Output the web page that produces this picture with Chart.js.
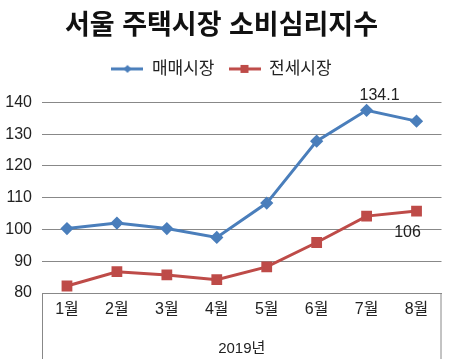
<!DOCTYPE html>
<html>
<head>
<meta charset="utf-8">
<script src="https://cdn.jsdelivr.net/npm/chart.js@4"></script>
<style>
  html, body { margin: 0; padding: 0; background: #fff; }
  #wrap { width: 450px; height: 363px; }
</style>
</head>
<body>
<div id="wrap"><canvas id="indexChart" width="450" height="363"></canvas></div>
<script>
var months = ['1월', '2월', '3월', '4월', '5월', '6월', '7월', '8월'];
var saleValues = [100.3, 102.0, 100.3, 97.5, 108.3, 127.8, 137.5, 134.1];
var rentValues = [82.2, 86.7, 85.7, 84.2, 88.2, 95.9, 104.2, 105.8];
var saleName = '매매시장';
var rentName = '전세시장';
var yearLabel = '2019년';
var endLabels = ['134.1', '106'];

var FONT = "'Liberation Sans', 'Noto Sans CJK KR', sans-serif";
var BLUE = '#4A7EBB';
var RED = '#BE4B48';

// small legend icons: line with the marker in the middle
function legendIcon(color, shape) {
    var c = document.createElement('canvas');
    c.width = 32; c.height = 10;
    var g = c.getContext('2d');
    g.strokeStyle = color;
    g.lineWidth = 3;
    g.beginPath(); g.moveTo(0, 5); g.lineTo(32, 5); g.stroke();
    g.fillStyle = color;
    g.beginPath();
    if (shape === 'diamond') {
        g.moveTo(16, 1); g.lineTo(20, 5); g.lineTo(16, 9); g.lineTo(12, 5);
    } else {
        g.rect(12, 1, 8, 8);
    }
    g.fill();
    return c;
}

// leave some extra room under the legend
var legendGap = {
    id: 'legendGap',
    beforeLayout: function(chart) {
        var lg = chart.legend;
        if (lg && !lg._gapPatched) {
            var fit = lg.fit;
            lg.fit = function() {
                fit.call(this);
                this.height += 15;
            };
            lg._gapPatched = true;
        }
    }
};

// excel-like box around the category axis + the end value labels
var extras = {
    id: 'extras',
    afterDatasetsDraw: function(chart) {
        var ctx = chart.ctx;
        var area = chart.chartArea;
        ctx.save();
        ctx.strokeStyle = '#888';
        ctx.lineWidth = 1;
        ctx.beginPath();
        ctx.moveTo(area.left + 0.5, area.bottom);
        ctx.lineTo(area.left + 0.5, chart.height - 4);
        ctx.moveTo(area.right - 0.5, area.bottom);
        ctx.lineTo(area.right - 0.5, chart.height - 4);
        ctx.stroke();

        ctx.fillStyle = '#222';
        ctx.font = '16px ' + FONT;
        ctx.textAlign = 'center';
        ctx.textBaseline = 'middle';
        var p0 = chart.getDatasetMeta(0).data[7];
        var p1 = chart.getDatasetMeta(1).data[7];
        ctx.fillText(endLabels[0], p0.x - 37, p0.y - 26);
        ctx.fillText(endLabels[1], p1.x - 9, p1.y + 22);
        ctx.restore();
    }
};

var ctx = document.getElementById('indexChart').getContext('2d');
var chart = new Chart(ctx, {
    type: 'line',
    data: {
        labels: months,
        datasets: [{
            label: saleName,
            data: saleValues,
            borderColor: BLUE,
            backgroundColor: BLUE,
            borderWidth: 3,
            pointStyle: 'rectRot',
            pointRadius: 4.5,
            tension: 0
        }, {
            label: rentName,
            data: rentValues,
            borderColor: RED,
            backgroundColor: RED,
            borderWidth: 3,
            pointStyle: 'rect',
            pointRadius: 5.5,
            tension: 0
        }]
    },
    options: {
        responsive: false,
        animation: false,
        layout: { padding: { top: 8, right: 7, bottom: 0, left: 0 } },
        plugins: {
            title: {
                display: true,
                text: '서울 주택시장 소비심리지수',
                color: '#111',
                font: { family: FONT, size: 27, weight: 'bold' },
                padding: { top: 2, bottom: 4 }
            },
            legend: {
                labels: {
                    usePointStyle: true,
                    pointStyleWidth: 32,
                    color: '#222',
                    font: { family: FONT, size: 17 },
                    padding: 14,
                    generateLabels: function(chart) {
                        return [
                            { text: saleName, pointStyle: legendIcon(BLUE, 'diamond'), fontColor: '#222', lineWidth: 0, datasetIndex: 0 },
                            { text: rentName, pointStyle: legendIcon(RED, 'square'), fontColor: '#222', lineWidth: 0, datasetIndex: 1 }
                        ];
                    }
                }
            },
            tooltip: { enabled: false }
        },
        scales: {
            x: {
                offset: true,
                grid: { display: false, drawTicks: false },
                border: { color: '#888' },
                ticks: { color: '#222', font: { family: FONT, size: 16 }, padding: 7 },
                title: {
                    display: true,
                    text: yearLabel,
                    color: '#222',
                    font: { family: FONT, size: 15 },
                    padding: { top: 5, bottom: 5 }
                },
                afterFit: function(scale) { scale.height = 70; }
            },
            y: {
                min: 80,
                max: 140,
                ticks: { stepSize: 10, color: '#222', font: { family: FONT, size: 16 }, padding: 10 },
                grid: { color: '#888', drawTicks: false },
                border: { display: false },
                afterFit: function(scale) { scale.width = 42; }
            }
        }
    },
    plugins: [legendGap, extras]
});
</script>
</body>
</html>
